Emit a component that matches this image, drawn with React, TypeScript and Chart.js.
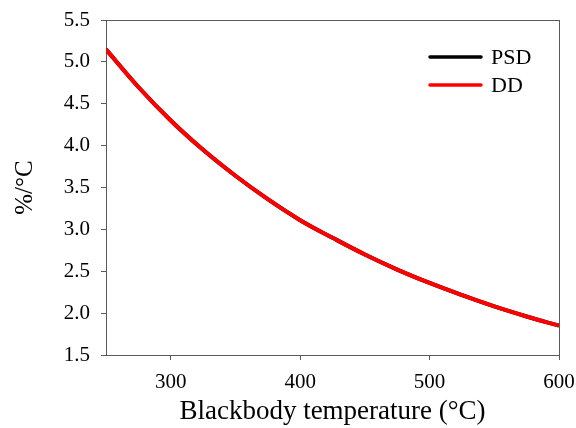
import React, { useEffect, useRef } from "react";
import { Chart, registerables } from "chart.js";

Chart.register(...registerables);

const temperatures = [250, 275, 300, 325, 350, 375, 400, 425, 450, 475, 500, 525, 550, 575, 600];
const psdValues = [5.15, 4.70, 4.30, 3.95, 3.64, 3.36, 3.11, 2.90, 2.70, 2.52, 2.36, 2.215, 2.08, 1.96, 1.85];
const ddValues = [5.15, 4.70, 4.30, 3.95, 3.64, 3.36, 3.11, 2.90, 2.70, 2.52, 2.36, 2.215, 2.08, 1.96, 1.85];
const xTickValues = [300, 400, 500, 600];
const seriesNames = ["PSD", "DD"];
const xTitle = "Blackbody temperature (°C)";
const yTitle = "%/°C";

const FONT = "'Liberation Serif', 'Times New Roman', serif";
const AXIS_COLOR = "#5a5a5a";

const frameAndLegend = {
  id: "frameAndLegend",
  beforeDatasetsDraw(chart: any) {
    const { ctx, chartArea } = chart;
    ctx.save();
    ctx.strokeStyle = AXIS_COLOR;
    ctx.lineWidth = 1;
    ctx.strokeRect(chartArea.left + 0.5, chartArea.top + 0.5, chartArea.right - chartArea.left, chartArea.bottom - chartArea.top);
    ctx.restore();
  },
  afterDraw(chart: any) {
    const { ctx, chartArea } = chart;
    ctx.save();
    const x1 = chartArea.right - 78;
    const x0 = x1 - 51;
    const tx = x1 + 10;
    let y = chartArea.top + 37;
    chart.data.datasets.forEach((ds: any) => {
      ctx.strokeStyle = ds.borderColor;
      ctx.lineWidth = 3.5;
      ctx.lineCap = "round";
      ctx.beginPath();
      ctx.moveTo(x0, y);
      ctx.lineTo(x1, y);
      ctx.stroke();
      ctx.fillStyle = "#000";
      ctx.font = `22px ${FONT}`;
      ctx.textBaseline = "middle";
      ctx.textAlign = "left";
      ctx.fillText(ds.label, tx, y + 1);
      y += 28;
    });
    ctx.restore();
  },
};

export default function App() {
  const ref = useRef<HTMLCanvasElement>(null);
  useEffect(() => {
    document.body.style.margin = "0";
    const chart = new Chart(ref.current!, {
      type: "line",
      data: {
        datasets: [
          {
            label: seriesNames[0],
            data: temperatures.map((t, i) => ({ x: t, y: psdValues[i] })),
            borderColor: "#000000",
            borderWidth: 4,
            pointRadius: 0,
            tension: 0.4,
            order: 2,
          },
          {
            label: seriesNames[1],
            data: temperatures.map((t, i) => ({ x: t, y: ddValues[i] })),
            borderColor: "#ff0000",
            borderWidth: 4,
            pointRadius: 0,
            tension: 0.4,
            order: 1,
          },
        ],
      },
      options: {
        responsive: false,
        animation: false,
        layout: { padding: { top: 20, right: 17, left: 0, bottom: 0 } },
        plugins: { legend: { display: false }, tooltip: { enabled: false } },
        scales: {
          x: {
            type: "linear",
            min: 250,
            max: 600,
            afterBuildTicks: (scale: any) => {
              scale.ticks = xTickValues.map((v) => ({ value: v }));
            },
            afterFit: (scale: any) => {
              scale.height = 73;
              scale.paddingRight = 0;
              scale.paddingLeft = 0;
            },
            grid: { drawOnChartArea: false, drawTicks: true, tickLength: 5, color: AXIS_COLOR },
            border: { display: true, color: AXIS_COLOR },
            ticks: { color: "#000", font: { family: FONT, size: 21 }, padding: 10, maxRotation: 0 },
            title: {
              display: true,
              text: xTitle,
              color: "#000",
              font: { family: FONT, size: 27 },
              padding: { top: 0, bottom: 0 },
            },
          },
          y: {
            min: 1.5,
            max: 5.5,
            afterFit: (scale: any) => {
              scale.width = 106;
              scale.paddingTop = 0;
              scale.paddingBottom = 0;
            },
            grid: { drawOnChartArea: false, drawTicks: true, tickLength: 5, color: AXIS_COLOR },
            border: { display: true, color: AXIS_COLOR },
            ticks: {
              stepSize: 0.5,
              color: "#000",
              font: { family: FONT, size: 21 },
              padding: 11,
              callback: (v: any) => Number(v).toFixed(1),
            },
            title: {
              display: true,
              text: yTitle,
              color: "#000",
              font: { family: FONT, size: 25 },
              padding: { top: 10, bottom: 0 },
            },
          },
        },
      },
      plugins: [frameAndLegend],
    });
    return () => chart.destroy();
  }, []);
  return (
    <div style={{ position: "absolute", left: 0, top: 0, width: 576, height: 428, background: "#fff" }}>
      <canvas ref={ref} width={576} height={428} />
    </div>
  );
}
